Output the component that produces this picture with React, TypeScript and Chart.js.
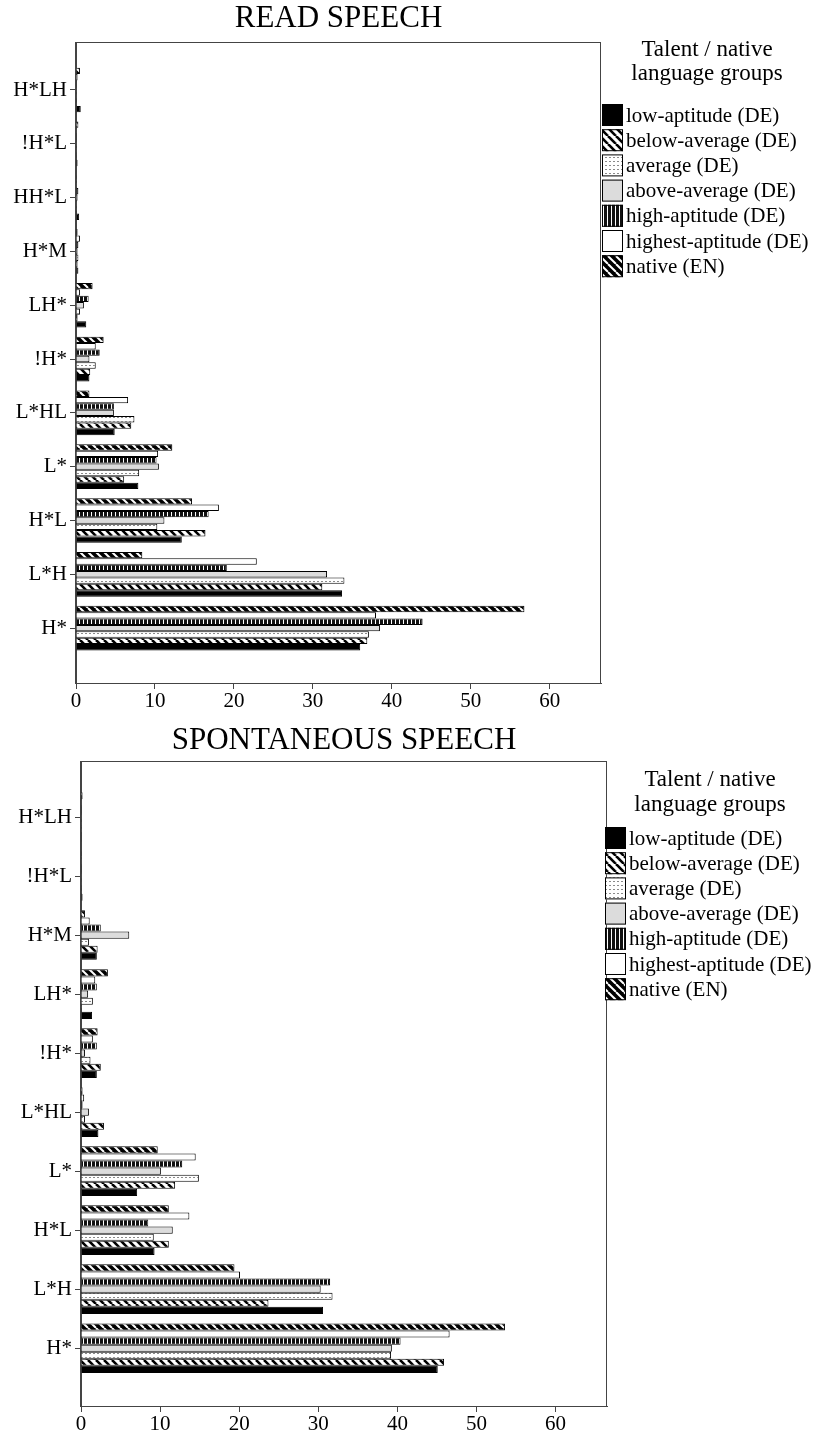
import React, { useEffect, useRef } from 'react';
import { Chart, registerables } from 'chart.js';

Chart.register(...registerables);

// Talent / native language groups (legend order)
const groups = [
  'low-aptitude (DE)',
  'below-average (DE)',
  'average (DE)',
  'above-average (DE)',
  'high-aptitude (DE)',
  'highest-aptitude (DE)',
  'native (EN)',
];

const xTicks = [0, 10, 20, 30, 40, 50, 60];

// READ SPEECH — share of pitch accents (%) per group
const readCategories = ['H*LH', '!H*L', 'HH*L', 'H*M', 'LH*', '!H*', 'L*HL', 'L*', 'H*L', 'L*H', 'H*'];
const readLow = [0.6, 0.2, 0.4, 0.3, 1.3, 1.7, 4.9, 7.9, 13.4, 33.7, 36.0];
const readBelow = [0.1, 0.1, 0.1, 0.2, 0.2, 1.8, 7.0, 6.1, 16.4, 31.2, 36.9];
const readAverage = [0.1, 0.1, 0.1, 0.3, 0.5, 2.5, 7.4, 8.0, 10.3, 34.0, 37.1];
const readAbove = [0.1, 0.1, 0.2, 0.2, 1.0, 1.7, 4.8, 10.5, 11.2, 31.8, 38.5];
const readHigh = [0.1, 0.1, 0.3, 0.3, 1.6, 3.0, 4.8, 10.2, 16.8, 19.1, 43.9];
const readHighest = [0.2, 0.1, 0.1, 0.5, 0.5, 2.5, 6.6, 10.4, 18.1, 22.9, 38.0];
const readNative = [0.5, 0.3, 0.1, 0.2, 2.1, 3.5, 1.7, 12.2, 14.7, 8.4, 56.8];

// SPONTANEOUS SPEECH — share of pitch accents (%) per group
const spontCategories = ['H*LH', '!H*L', 'H*M', 'LH*', '!H*', 'L*HL', 'L*', 'H*L', 'L*H', 'H*'];
const spontLow = [0.1, 0.2, 2.0, 1.4, 2.0, 2.2, 7.1, 9.3, 30.6, 45.1];
const spontBelow = [0.1, 0.1, 2.1, 0.1, 2.5, 2.9, 11.9, 11.1, 23.7, 45.9];
const spontAverage = [0.1, 0.1, 1.0, 1.5, 1.2, 0.5, 14.9, 9.2, 31.8, 39.2];
const spontAbove = [0.1, 0.1, 6.1, 0.9, 0.5, 1.0, 10.1, 11.6, 30.3, 39.3];
const spontHigh = [0.1, 0.1, 2.5, 2.0, 2.0, 0.2, 12.8, 8.5, 31.5, 40.4];
const spontHighest = [0.1, 0.1, 1.1, 1.8, 1.5, 0.4, 14.5, 13.7, 20.1, 46.6];
const spontNative = [0.2, 0.1, 0.5, 3.4, 2.1, 0.2, 9.7, 11.1, 19.4, 53.6];

const FONT = '"Liberation Serif", "Times New Roman", serif';

type Layout = {
  top: number;
  height: number;
  frameLeft: number;
  frameRight: number;
  frameTop: number;
  frameBottom: number;
  yMin: number;
  yMax: number;
  xMax: number;
  categoryPercentage: number;
  titleY: number;
  legendX: number;
  legendTitleY: [number, number];
  legendItemY: number;
  legendStep: number;
};

const readLayout: Layout = {
  top: 0,
  height: 720,
  frameLeft: 76,
  frameRight: 601,
  frameTop: 42,
  frameBottom: 683,
  yMin: -0.892,
  yMax: 11.02,
  xMax: 66.5,
  categoryPercentage: 0.83,
  titleY: 19,
  legendX: 602,
  legendTitleY: [50, 74],
  legendItemY: 115,
  legendStep: 25.2,
};

const spontLayout: Layout = {
  top: 720,
  height: 721,
  frameLeft: 81,
  frameRight: 607,
  frameTop: 41,
  frameBottom: 686,
  yMin: -0.95,
  yMax: 9.98,
  xMax: 66.5,
  categoryPercentage: 0.84,
  titleY: 21,
  legendX: 605,
  legendTitleY: [60, 85],
  legendItemY: 118,
  legendStep: 25.2,
};

function tile(w: number, h: number, paint: (g: CanvasRenderingContext2D) => void): CanvasPattern {
  const c = document.createElement('canvas');
  c.width = w;
  c.height = h;
  const g = c.getContext('2d') as CanvasRenderingContext2D;
  paint(g);
  return g.createPattern(c, 'repeat') as CanvasPattern;
}

function diagonal(bg: string, fg: string, lw: number, size: number) {
  return tile(size, size, (g) => {
    g.fillStyle = bg;
    g.fillRect(0, 0, size, size);
    g.strokeStyle = fg;
    g.lineWidth = lw;
    for (const o of [-size, 0, size]) {
      g.beginPath();
      g.moveTo(o, 0);
      g.lineTo(o + size, size);
      g.stroke();
    }
  });
}

function makeFills(): (string | CanvasPattern)[] {
  const dotted = tile(4, 4, (g) => {
    g.fillStyle = '#fff';
    g.fillRect(0, 0, 4, 4);
    g.fillStyle = '#8a8a8a';
    g.fillRect(1, 1, 2, 1);
  });
  const vertical = tile(4, 4, (g) => {
    g.fillStyle = '#fff';
    g.fillRect(0, 0, 4, 4);
    g.fillStyle = '#111';
    g.fillRect(0, 0, 3, 4);
  });
  return [
    '#000',
    diagonal('#fff', '#000', 2.6, 8),
    dotted,
    '#dcdcdc',
    vertical,
    '#fff',
    diagonal('#000', '#fff', 2.0, 8),
  ];
}

type PanelProps = {
  title: string;
  categories: string[];
  series: number[][];
  layout: Layout;
};

function Panel({ title, categories, series, layout }: PanelProps) {
  const ref = useRef<HTMLCanvasElement | null>(null);

  useEffect(() => {
    const canvas = ref.current;
    if (!canvas) return;
    const fills = makeFills();
    const W = 815;
    const H = layout.height;

    // grouped bars are stacked top-down in dataset order, so native comes first
    const order = groups.map((_, i) => i).reverse();

    const framePlugin = {
      id: 'frame',
      afterDraw(chart: Chart) {
        const { ctx, chartArea } = chart;
        ctx.save();
        ctx.strokeStyle = '#444';
        ctx.lineWidth = 1;
        ctx.strokeRect(
          Math.round(chartArea.left) - 0.5,
          Math.round(chartArea.top) + 0.5,
          chartArea.right - chartArea.left,
          chartArea.bottom - chartArea.top
        );
        ctx.restore();
      },
    };

    const titleLegendPlugin = {
      id: 'titleLegend',
      afterDraw(chart: Chart) {
        const { ctx, chartArea } = chart;
        ctx.save();
        ctx.fillStyle = '#000';
        ctx.textBaseline = 'middle';
        ctx.textAlign = 'center';
        ctx.font = `31px ${FONT}`;
        ctx.fillText(title, (chartArea.left + chartArea.right) / 2, layout.titleY);

        const lx = layout.legendX;
        ctx.font = `23px ${FONT}`;
        ctx.fillText('Talent / native', lx + 105, layout.legendTitleY[0]);
        ctx.fillText('language groups', lx + 105, layout.legendTitleY[1]);

        ctx.textAlign = 'left';
        ctx.font = `21px ${FONT}`;
        groups.forEach((g, i) => {
          const cy = layout.legendItemY + i * layout.legendStep;
          ctx.fillStyle = fills[i] as any;
          ctx.fillRect(lx, cy - 11, 21, 22);
          ctx.strokeStyle = '#000';
          ctx.lineWidth = 1;
          ctx.strokeRect(lx + 0.5, cy - 10.5, 20, 21);
          ctx.fillStyle = '#000';
          ctx.fillText(g, lx + 24, cy + 1);
        });
        ctx.restore();
      },
    };

    const chart = new Chart(canvas, {
      type: 'bar',
      data: {
        datasets: order.map((gi) => ({
          label: groups[gi],
          data: categories.map((_, ci) => ({ x: series[gi][ci], y: ci })),
          backgroundColor: fills[gi] as any,
          borderColor: '#000',
          borderWidth: 1,
          categoryPercentage: layout.categoryPercentage,
          barPercentage: 1,
        })),
      },
      options: {
        indexAxis: 'y',
        responsive: false,
        animation: false,
        events: [],
        layout: {
          padding: {
            left: 0,
            top: layout.frameTop,
            right: W - layout.frameRight,
            bottom: 0,
          },
        },
        plugins: {
          legend: { display: false },
          title: { display: false },
          tooltip: { enabled: false },
        },
        scales: {
          x: {
            type: 'linear',
            min: 0,
            max: layout.xMax,
            afterBuildTicks: (s: any) => {
              s.ticks = xTicks.map((v) => ({ value: v }));
            },
            ticks: {
              color: '#000',
              padding: 0,
              maxRotation: 0,
              font: { family: FONT, size: 21 },
            },
            grid: {
              drawOnChartArea: false,
              drawTicks: true,
              tickLength: 6,
              color: '#444',
            },
            border: { color: '#444' },
            afterFit: (s: any) => {
              s.height = H - layout.frameBottom;
            },
          },
          y: {
            type: 'linear',
            reverse: true,
            offset: false,
            min: layout.yMin,
            max: layout.yMax,
            afterBuildTicks: (s: any) => {
              s.ticks = categories.map((_, i) => ({ value: i }));
            },
            ticks: {
              color: '#000',
              padding: 3,
              autoSkip: false,
              font: { family: FONT, size: 21 },
              callback: (v: any) => categories[Math.round(Number(v))],
            },
            grid: {
              offset: false,
              drawOnChartArea: false,
              drawTicks: true,
              tickLength: 6,
              color: '#444',
            },
            border: { color: '#444' },
            afterFit: (s: any) => {
              s.width = layout.frameLeft;
            },
          },
        },
      },
      plugins: [framePlugin, titleLegendPlugin],
    } as any);

    return () => chart.destroy();
  }, [title, categories, series, layout]);

  return (
    <canvas
      ref={ref}
      width={815}
      height={layout.height}
      style={{
        position: 'absolute',
        left: 0,
        top: layout.top,
        width: 815,
        height: layout.height,
        display: 'block',
      }}
    />
  );
}

const readSeries = [readLow, readBelow, readAverage, readAbove, readHigh, readHighest, readNative];
const spontSeries = [spontLow, spontBelow, spontAverage, spontAbove, spontHigh, spontHighest, spontNative];

export default function App() {
  return (
    <div
      style={{
        position: 'absolute',
        left: 0,
        top: 0,
        width: 815,
        height: 1441,
        background: '#fff',
        overflow: 'hidden',
      }}
    >
      <Panel title="READ SPEECH" categories={readCategories} series={readSeries} layout={readLayout} />
      <Panel
        title="SPONTANEOUS SPEECH"
        categories={spontCategories}
        series={spontSeries}
        layout={spontLayout}
      />
    </div>
  );
}
